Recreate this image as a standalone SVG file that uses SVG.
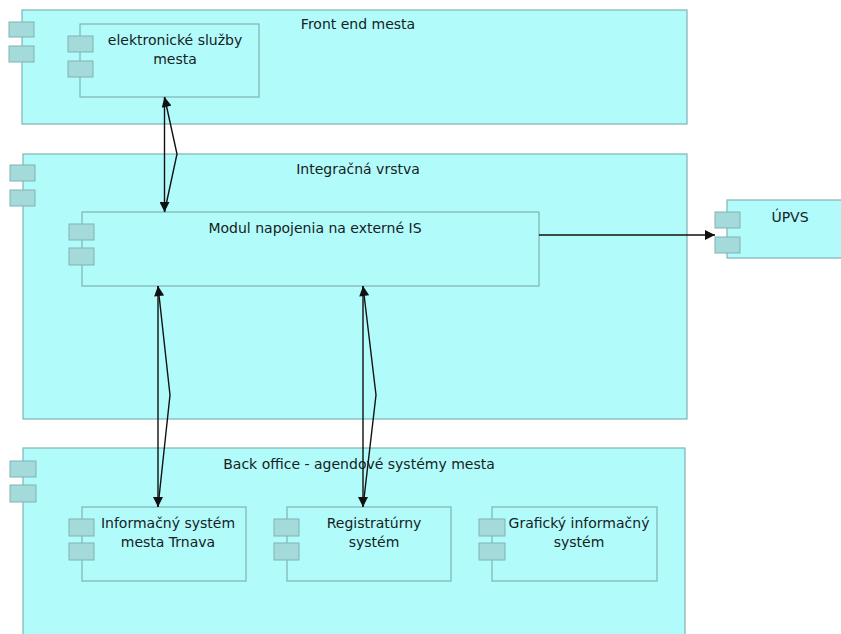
<svg xmlns="http://www.w3.org/2000/svg" width="841" height="634" viewBox="0 0 841 634">
<style>
.box{fill:#b2fbfb;stroke:#80b3b3;stroke-width:1.2}
.tab{fill:#a4dada;stroke:#80b3b3;stroke-width:1}
.lbl{font-family:"DejaVu Sans","Liberation Sans",sans-serif;font-size:14px;fill:#152222;text-anchor:middle}
.conn{fill:none;stroke:#111;stroke-width:1.4}
</style>
<defs>
<marker id="ah" viewBox="0 0 10 10" refX="10" refY="5" markerWidth="11" markerHeight="10" markerUnits="userSpaceOnUse" orient="auto">
<path d="M0,0 L10,5 L0,10 z" fill="#111"/>
</marker>
</defs>
<rect width="841" height="634" fill="#ffffff"/>
<g id="front-end">
<rect class="box" x="22" y="10" width="665" height="114"/>
<rect class="tab" x="9" y="22" width="25" height="15"/>
<rect class="tab" x="9" y="46" width="25" height="16"/>
<text class="lbl" x="358" y="29">Front end mesta</text>
</g>
<g id="elektronicke-sluzby">
<rect class="box" x="80" y="24" width="179" height="73"/>
<rect class="tab" x="68" y="36" width="25" height="16"/>
<rect class="tab" x="68" y="61" width="25" height="16"/>
<text class="lbl" x="175" y="45">elektronické služby</text>
<text class="lbl" x="175" y="64">mesta</text>
</g>
<g id="integracna-vrstva">
<rect class="box" x="23" y="154" width="664" height="265"/>
<rect class="tab" x="10" y="165" width="25" height="16"/>
<rect class="tab" x="10" y="190" width="25" height="16"/>
<text class="lbl" x="358" y="174">Integračná vrstva</text>
</g>
<g id="modul">
<rect class="box" x="82" y="212" width="457" height="74"/>
<rect class="tab" x="69" y="224" width="25" height="16"/>
<rect class="tab" x="69" y="248" width="25" height="17"/>
<text class="lbl" x="315" y="233">Modul napojenia na externé IS</text>
</g>
<g id="upvs">
<rect class="box" x="727" y="200" width="120" height="58"/>
<rect class="tab" x="715" y="212" width="25" height="16"/>
<rect class="tab" x="715" y="237" width="25" height="16"/>
<text class="lbl" x="790" y="222">ÚPVS</text>
</g>
<g id="back-office">
<rect class="box" x="23" y="448" width="662" height="190"/>
<rect class="tab" x="10" y="461" width="26" height="16"/>
<rect class="tab" x="10" y="485" width="26" height="17"/>
<text class="lbl" x="359" y="469">Back office - agendové systémy mesta</text>
</g>
<g id="is-trnava">
<rect class="box" x="82" y="507" width="164" height="74"/>
<rect class="tab" x="69" y="519" width="25" height="17"/>
<rect class="tab" x="69" y="543" width="25" height="17"/>
<text class="lbl" x="168" y="528">Informačný systém</text>
<text class="lbl" x="168" y="547">mesta Trnava</text>
</g>
<g id="registraturny">
<rect class="box" x="287" y="507" width="164" height="74"/>
<rect class="tab" x="274" y="519" width="25" height="17"/>
<rect class="tab" x="274" y="543" width="25" height="17"/>
<text class="lbl" x="374" y="528">Registratúrny</text>
<text class="lbl" x="374" y="547">systém</text>
</g>
<g id="graficky">
<rect class="box" x="492" y="507" width="165" height="74"/>
<rect class="tab" x="479" y="519" width="26" height="17"/>
<rect class="tab" x="479" y="543" width="26" height="17"/>
<text class="lbl" x="579" y="528">Grafický informačný</text>
<text class="lbl" x="579" y="547">systém</text>
</g>
<g id="connectors">
<line class="conn" x1="164.5" y1="97" x2="164.5" y2="212" marker-end="url(#ah)"/>
<polyline class="conn" points="164.5,212 177,154 164.5,97" marker-end="url(#ah)"/>
<line class="conn" x1="539" y1="235" x2="715" y2="235" marker-end="url(#ah)"/>
<line class="conn" x1="158" y1="286" x2="158" y2="507" marker-end="url(#ah)"/>
<polyline class="conn" points="158,507 170,395 158,286" marker-end="url(#ah)"/>
<line class="conn" x1="363" y1="286" x2="363" y2="507" marker-end="url(#ah)"/>
<polyline class="conn" points="363,507 376,395 363,286" marker-end="url(#ah)"/>
</g>
</svg>
